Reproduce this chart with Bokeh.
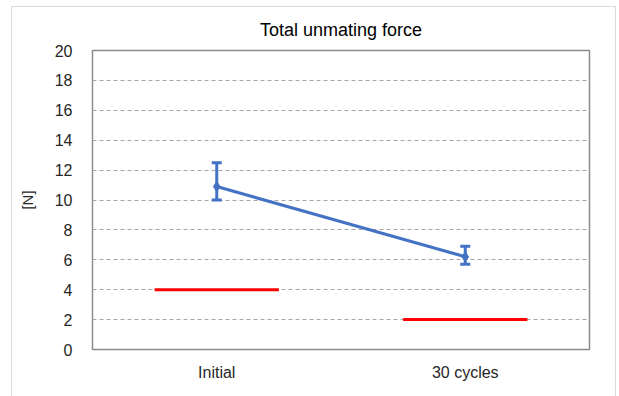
from bokeh.plotting import figure
from bokeh.models import ColumnDataSource, Whisker, TeeHead, FactorRange, Range1d, FixedTicker
from bokeh.embed import file_html
from bokeh.resources import INLINE

categories = ["Initial", "30 cycles"]
mean_force = [10.9, 6.2]
upper_force = [12.5, 6.9]
lower_force = [10.0, 5.7]
limit_force = [4.0, 2.0]
y_ticks = [0, 2, 4, 6, 8, 10, 12, 14, 16, 18, 20]

BLUE = "#4472C4"
RED = "#FF0000"
AXFONT = "Liberation Sans, Arial, sans-serif"

src = ColumnDataSource(dict(cat=categories, mean=mean_force, upper=upper_force,
                            lower=lower_force, limit=limit_force))

p = figure(width=605, height=392, x_range=FactorRange(*categories, range_padding=0),
           y_range=Range1d(0, 20), output_backend="svg", toolbar_location=None,
           title="Total unmating force",
           min_border_left=80, min_border_right=28, min_border_top=40, min_border_bottom=50,
           styles={"margin-left": "11px", "margin-top": "6px", "border": "1px solid #d9d9d9"})

p.title.align = "center"
p.title.text_font = "Liberation Sans, Arial, sans-serif"
p.title.text_font_size = "18px"
p.title.text_font_style = "normal"
p.title.text_color = "#000000"
p.title.offset = 0
p.title.standoff = 21

p.outline_line_color = "#8c8c8c"
p.outline_line_width = 1.5
p.background_fill_color = "white"
p.border_fill_color = "white"

p.xgrid.grid_line_color = None
p.ygrid.grid_line_color = "#a6a6a6"
p.ygrid.grid_line_dash = "4 3"
p.ygrid.grid_line_width = 1

p.yaxis.ticker = FixedTicker(ticks=y_ticks)
for ax in (p.xaxis[0], p.yaxis[0]):
    ax.axis_line_color = None
    ax.major_tick_line_color = None
    ax.minor_tick_line_color = None
    ax.major_label_text_font = AXFONT
    ax.major_label_text_font_size = "16px"
    ax.major_label_text_color = "#262626"
p.yaxis.major_label_standoff = 14
p.xaxis.major_label_standoff = 8
p.yaxis.axis_label = "[N]"
p.yaxis.axis_label_text_font = AXFONT
p.yaxis.axis_label_text_font_size = "15px"
p.yaxis.axis_label_text_font_style = "normal"
p.yaxis.axis_label_text_color = "#262626"
p.yaxis.axis_label_standoff = 16

# limit lines (red)
p.rect(x="cat", y="limit", width=0.5, height=3, height_units="screen",
       fill_color=RED, line_color=None, source=src)

# mean line with error bars
p.line(x="cat", y="mean", line_color=BLUE, line_width=3, source=src)
w = Whisker(base="cat", upper="upper", lower="lower", source=src,
            line_color=BLUE, line_width=3,
            upper_head=TeeHead(size=10, line_color=BLUE, line_width=3),
            lower_head=TeeHead(size=10, line_color=BLUE, line_width=3))
p.add_layout(w)
p.scatter(x="cat", y="mean", marker="diamond", size=10, fill_color=BLUE,
          line_color=BLUE, source=src)

open("out.html", "w").write(file_html(p, INLINE))
